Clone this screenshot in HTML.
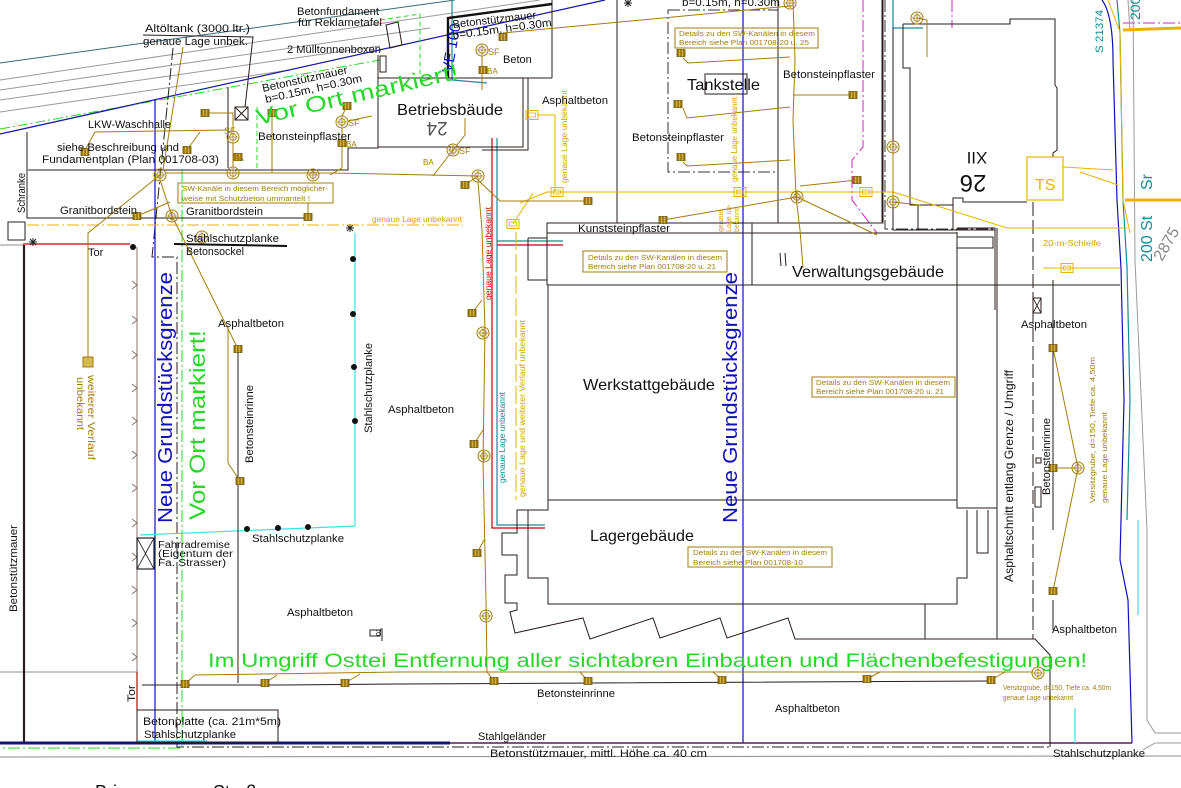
<!DOCTYPE html>
<html><head><meta charset="utf-8"><style>
html,body{margin:0;padding:0;background:#fff;}
svg{display:block;}
text{font-family:"Liberation Sans",sans-serif;}
</style></head><body>
<svg width="1181" height="788" viewBox="0 0 1181 788" xmlns="http://www.w3.org/2000/svg">
<defs>
<g id="mh"><circle r="6" fill="none" stroke="#a27c0e" stroke-width="1"/><circle r="3.3" fill="none" stroke="#a27c0e" stroke-width="0.8"/><path d="M-5 0H5M0 -5V5" stroke="#a27c0e" stroke-width="0.8"/></g>
<g id="sq"><rect x="-4" y="-3.5" width="8" height="7" fill="#a57f10" stroke="#6a5000" stroke-width="0.8"/><path d="M-1.5 -3.5V3.5M1.5 -3.5V3.5" stroke="#e8cc70" stroke-width="0.6"/></g>
<g id="ysq"><rect x="-6" y="-4.5" width="12" height="9" fill="none" stroke="#e6b400" stroke-width="1"/><rect x="-3.5" y="-2" width="7" height="4" fill="none" stroke="#e6b400" stroke-width="0.8"/></g>
<g id="star"><path d="M-4 0H4M0 -4V4M-3 -3L3 3M-3 3L3 -3" stroke="#222" stroke-width="1"/></g>
</defs>
<rect width="1181" height="788" fill="#fff"/>

<!-- top diagonal road lines -->
<g fill="none" stroke-width="1">
<line x1="0" y1="63" x2="455" y2="0" stroke="#3a6a7a"/>
<line x1="0" y1="80" x2="540" y2="0" stroke="#9a9a9a"/>
<line x1="0" y1="90" x2="430" y2="28" stroke="#9a9a9a"/>
<line x1="0" y1="100" x2="380" y2="46" stroke="#9a9a9a"/>
<line x1="0" y1="112" x2="290" y2="70" stroke="#9a9a9a"/>
<line x1="0" y1="129" x2="380" y2="60" stroke="#28d828" stroke-dasharray="10,3,2,3"/>
<line x1="0" y1="134" x2="605" y2="0" stroke="#1a1aa0" stroke-width="1.3"/>
</g>

<!-- grey verticals left -->
<g stroke="#8a7070" fill="none" stroke-width="1">
<line x1="137" y1="247" x2="137" y2="672"/>
<path d="M132 281L137 285L132 289M132 316L137 320L132 324M132 351L137 355L132 359M132 384L137 388L132 392M132 417L137 421L132 425M132 451L137 455L132 459M132 484L137 488L132 492M132 519L137 523L132 527M132 553L137 557L132 561M132 586L137 590L132 594M132 619L137 623L132 627M132 653L137 657L132 661"/>
</g>
<line x1="0" y1="672" x2="137" y2="672" stroke="#8c8c8c"/>
<line x1="0" y1="757" x2="1181" y2="756" stroke="#8c8c8c"/>
<line x1="0" y1="245" x2="23" y2="245" stroke="#8c8c8c"/>

<!-- left wall -->
<line x1="24" y1="245" x2="24" y2="743" stroke="#2a1c1c" stroke-width="2.2"/>

<!-- dash-dot and green boundary lines -->
<g fill="none" stroke-dasharray="12,3,2,3" stroke-width="1">
<path d="M173 48L152 257H177V747H1049" stroke="#222"/>
<path d="M182 170V748H0" stroke="#28d828"/>
<path d="M668 10H778V172H668Z" stroke="#333"/>
<path d="M885 0V229H995" stroke="#333"/>
<path d="M1123 23H1181" stroke="#d020c8"/>
<path d="M863 0V147L852 160V200L877 233" stroke="#d020c8"/>
<path d="M952 0V28" stroke="#d020c8"/>
</g>
<!-- green dashed Vor Ort box -->
<path d="M257 168V105M380 20L420 14V78" fill="none" stroke="#28d828" stroke-dasharray="5,3"/>

<!-- blue property lines -->
<g fill="none" stroke="#1010b8" stroke-width="1.2">
<line x1="155" y1="100" x2="155" y2="743"/>
<line x1="743" y1="0" x2="743" y2="743"/>
<path d="M1102 0Q1113 15 1113 60L1117 200L1121 268L1124 400L1120 560L1128 600L1132 743"/>
</g>
<line x1="0" y1="743" x2="450" y2="743" stroke="#141478" stroke-width="3"/>
<line x1="450" y1="743" x2="1132" y2="743" stroke="#5a1a5a" stroke-width="1.6"/>

<!-- teal/red/cyan -->
<g fill="none" stroke-width="1.2">
<path d="M497 138V525H545" stroke="#168a96"/>
<path d="M492 138V528H545" stroke="#cc0000"/>
<path d="M497 241H563" stroke="#168a96"/>
<path d="M497 245H563" stroke="#cc0000"/>
<path d="M23 244H130" stroke="#cc0000"/>
<path d="M137 672V710" stroke="#cc0000"/>
<path d="M452 0V80L487 83" stroke="#168a96"/>
<path d="M893 0V28H923" stroke="#168a96"/>
<path d="M1117 0L1120 33L1123 200L1127 267L1130 400L1127 520" stroke="#168a96"/>
<path d="M140 535L355 526V233" stroke="#40e0e8"/>
<path d="M137 741H207" stroke="#40e0e8"/>
<path d="M1075 708V743M1138 520V615" stroke="#40e0e8"/>
</g>
<!-- grey right -->
<g fill="none" stroke="#9a9a9a" stroke-width="1">
<path d="M1133 0L1135 260L1147 530L1147 720L1155 733H1181"/>
<path d="M1143 750L1155 743H1181"/>
<path d="M1128 0L1130 30"/>
</g>

<!-- buildings black -->
<g fill="none" stroke="#2a1c1c" stroke-width="1">
<path d="M27 132V218H310"/>
<path d="M28 170H348V148H378V55"/>
<path d="M228 87V168"/>
<path d="M143 35L253 37L245 107"/>
<rect x="235" y="107" width="13" height="13"/>
<path d="M235 107L248 120M248 107L235 120"/>
<rect x="380" y="56" width="6" height="16"/>
<path d="M386 25L398 22L402 45L390 48Z"/>
<path d="M378 78H552M378 78V147H523V78"/>
<path d="M482 150H528V78"/>
<path d="M552 0V78"/>
<path d="M617 0V223"/>
<path d="M778 0V223H547V285"/>
<rect x="705" y="74" width="42" height="20"/>
<path d="M528 238H547M528 238V280H547"/>
<path d="M547 233H957"/>
<path d="M752 223H883V0"/>
<path d="M752 223V285"/>
<path d="M882 0V222"/>
<path d="M893 28V230H995"/>
<path d="M547 285H1120"/>
<path d="M548 285V500H957"/>
<path d="M957 232V508H997"/>
<path d="M957 228H995V310"/>
<rect x="957" y="237" width="36" height="11"/>
<path d="M997 228V639"/>
<path d="M903 24H1010V19H1055V85L1057 88V150L1053 153V157"/>
<path d="M1027 202H963V198H953V205H910V68H903V24"/>
<path d="M918 205V230M953 205V230"/>
<path d="M548 500V510H517V533H502V555H517V575H505V603H517V610L510 612L515 633L583 618L590 639L653 618L660 638L720 618L727 638L788 618L795 639H1035L1050 655V747"/>
<path d="M528 510V578H548V604H957V578H967V510"/>
<path d="M977 510V553H988V510"/>
<path d="M925 604V639"/>
<path d="M1053 280V530M1053 600V630"/>
<rect x="1035" y="487" width="6" height="20"/>
<rect x="1036" y="458" width="5" height="5"/>
<path d="M238 348V683"/>
<path d="M142 685H283L400 684L993 681"/>
<rect x="137" y="710" width="141" height="32"/>
<path d="M780 253L781 266M785 253L786 266"/>
</g>
<path d="M1033 202V639" fill="none" stroke="#2a1c1c" stroke-dasharray="14,4"/>
<rect x="1033" y="298" width="8" height="15" fill="none" stroke="#2a1c1c"/>
<path d="M1033 298L1041 313M1041 298L1033 313" stroke="#2a1c1c" stroke-width="0.8"/>
<path d="M448 78V18L552 4" fill="none" stroke="#111" stroke-width="2.4"/>
<line x1="174" y1="244" x2="287" y2="246" stroke="#111" stroke-width="2"/>
<rect x="8" y="222" width="17" height="18" fill="none" stroke="#222"/>
<rect x="137" y="538" width="17" height="31" fill="none" stroke="#222" stroke-width="1.2"/>
<path d="M137 538L154 569M154 538L137 569" stroke="#222" stroke-width="0.8"/>
<rect x="370" y="630" width="10" height="6" fill="none" stroke="#222"/>
<path d="M382 628V641" stroke="#222"/>

<!-- black dots -->
<g fill="#111">
<circle cx="133" cy="247" r="3"/><circle cx="353" cy="259" r="3"/><circle cx="353" cy="314" r="3"/><circle cx="354" cy="367" r="3"/><circle cx="355" cy="421" r="3"/><circle cx="247" cy="529" r="3"/><circle cx="278" cy="528" r="3"/><circle cx="308" cy="527" r="3"/>
</g>
<use href="#star" x="33" y="242"/><use href="#star" x="350" y="228"/><use href="#star" x="628" y="3"/>

<!-- yellow utility lines -->
<g fill="none" stroke="#e6b400" stroke-width="1">
<path d="M27 225H463" stroke-dasharray="12,3,2,3"/>
<path d="M537 115H555V192"/>
<path d="M520 203L547 192H893L1007 228H1127"/>
<path d="M513 224L533 193"/>
<path d="M516 232V500" stroke-dasharray="18,4"/>
<path d="M1043 268H1120"/>
<path d="M1063 167L1113 170M1080 172L1118 185"/>
<path d="M1108 0L1120 32L1123 200L1130 233"/>
</g>
<path d="M1123 30L1181 28M1125 200H1181" stroke="#f0b000" stroke-width="3"/>
<rect x="1027" y="157" width="36" height="43" fill="none" stroke="#e6b400" stroke-width="1.2"/>

<!-- olive lines -->
<g fill="none" stroke="#a27c0e" stroke-width="1">
<path d="M183 47L163 170"/>
<path d="M160 175L88 233V357"/>
<path d="M160 180L172 216L238 349"/>
<path d="M142 214L170 202"/>
<path d="M165 173H330L478 176"/>
<path d="M233 143V167"/>
<path d="M205 113H233V131"/>
<path d="M85 150L95 132L227 130"/>
<path d="M187 150L200 132"/>
<path d="M272 113V173"/>
<path d="M342 128V168L330 175"/>
<path d="M347 106L342 116"/>
<path d="M348 121L372 116"/>
<path d="M308 217V203"/>
<path d="M453 150L433 176"/>
<path d="M453 150L465 135V118"/>
<path d="M478 176L465 185"/>
<path d="M478 180L500 201H588"/>
<path d="M503 33L790 6"/>
<path d="M482 56V90"/>
<path d="M478 182L482 230L485 330L483 460L486 600L487 672"/>
<path d="M195 675L400 672H1033"/>
<path d="M185 684L195 675M265 683L277 675M345 683L360 674M494 681L487 672M588 681L580 672M722 680L713 672M867 679L880 672M991 680L1005 672"/>
<path d="M228 327V463L240 481"/>
<path d="M472 313L482 300M474 444L483 430M477 553L484 540"/>
<path d="M683 58L688 63L790 57M683 108L687 118L790 107M683 162L687 166L790 160"/>
<path d="M793 0L795 60L793 120L796 197L800 230L803 268"/>
<path d="M853 95H793M857 180L800 186"/>
<path d="M797 197L663 220M797 197L877 235"/>
<path d="M917 18L927 20V57"/>
<path d="M893 147V202L920 205"/>
<path d="M1053 348L1078 468M1053 468H1078M1078 468L1053 591"/>
</g>

<!-- olive symbols -->
<g>
<use href="#mh" x="160" y="175"/><use href="#mh" x="233" y="173"/><use href="#mh" x="313" y="175"/><use href="#mh" x="172" y="216"/><use href="#mh" x="233" y="137"/><use href="#mh" x="342" y="122"/><use href="#mh" x="202" y="237"/><use href="#mh" x="482" y="50"/><use href="#mh" x="453" y="150"/><use href="#mh" x="478" y="176"/><use href="#mh" x="483" y="333"/><use href="#mh" x="484" y="456"/><use href="#mh" x="486" y="616"/><use href="#mh" x="797" y="197"/><use href="#mh" x="790" y="3"/><use href="#mh" x="917" y="18"/><use href="#mh" x="893" y="147"/><use href="#mh" x="893" y="202"/><use href="#mh" x="1078" y="468"/><use href="#mh" x="1038" y="673"/>
<use href="#sq" x="205" y="113"/><use href="#sq" x="272" y="113"/><use href="#sq" x="347" y="106"/><use href="#sq" x="85" y="152"/><use href="#sq" x="187" y="150"/><use href="#sq" x="342" y="143"/><use href="#sq" x="238" y="157"/><use href="#sq" x="137" y="216"/><use href="#sq" x="308" y="217"/><use href="#sq" x="503" y="37"/><use href="#sq" x="483" y="70"/><use href="#sq" x="465" y="185"/><use href="#sq" x="588" y="201"/><use href="#sq" x="663" y="220"/><use href="#sq" x="681" y="53"/><use href="#sq" x="678" y="104"/><use href="#sq" x="681" y="157"/><use href="#sq" x="853" y="95"/><use href="#sq" x="857" y="180"/><use href="#sq" x="472" y="313"/><use href="#sq" x="474" y="444"/><use href="#sq" x="477" y="553"/><use href="#sq" x="494" y="681"/><use href="#sq" x="588" y="681"/><use href="#sq" x="722" y="680"/><use href="#sq" x="185" y="684"/><use href="#sq" x="265" y="683"/><use href="#sq" x="345" y="683"/><use href="#sq" x="867" y="679"/><use href="#sq" x="991" y="680"/><use href="#sq" x="238" y="349"/><use href="#sq" x="240" y="481"/><use href="#sq" x="1053" y="348"/><use href="#sq" x="1053" y="468"/><use href="#sq" x="1053" y="591"/>
<rect x="83" y="357" width="10" height="10" fill="#d8b850" stroke="#a27c0e"/>
<use href="#ysq" x="532" y="115"/><use href="#ysq" x="557" y="192"/><use href="#ysq" x="513" y="224"/><use href="#ysq" x="740" y="192"/><use href="#ysq" x="866" y="192"/><use href="#ysq" x="1067" y="268"/>
</g>

<!-- olive boxes -->
<g fill="none" stroke="#a27c0e" stroke-width="1">
<rect x="178" y="183" width="155" height="20"/>
<rect x="675" y="28" width="143" height="20"/>
<rect x="583" y="251" width="144" height="21"/>
<rect x="812" y="377" width="143" height="20"/>
<rect x="688" y="547" width="144" height="20"/>
</g>
<g fill="#a27c0e" font-size="7.5">
<text x="182" y="191" textLength="146" lengthAdjust="spacingAndGlyphs">SW-Kanäle in diesem Bereich möglicher-</text>
<text x="182" y="201" textLength="128" lengthAdjust="spacingAndGlyphs">weise mit Schutzbeton ummantelt !</text>
<text x="679" y="36" textLength="136" lengthAdjust="spacingAndGlyphs">Details zu den SW-Kanälen in diesem</text>
<text x="679" y="45" textLength="130" lengthAdjust="spacingAndGlyphs">Bereich siehe Plan 001708-20 u. 25</text>
<text x="588" y="260" textLength="134" lengthAdjust="spacingAndGlyphs">Details zu den SW-Kanälen in diesem</text>
<text x="588" y="269" textLength="128" lengthAdjust="spacingAndGlyphs">Bereich siehe Plan 001708-20 u. 21</text>
<text x="816" y="385" textLength="134" lengthAdjust="spacingAndGlyphs">Details zu den SW-Kanälen in diesem</text>
<text x="816" y="394" textLength="128" lengthAdjust="spacingAndGlyphs">Bereich siehe Plan 001708-20 u. 21</text>
<text x="693" y="555" textLength="134" lengthAdjust="spacingAndGlyphs">Details zu den SW-Kanälen in diesem</text>
<text x="693" y="565" textLength="110" lengthAdjust="spacingAndGlyphs">Bereich siehe Plan 001708-10</text>
<text x="1003" y="690" textLength="108" lengthAdjust="spacingAndGlyphs">Versitzgrube, d=150, Tiefe ca. 4,50m</text>
<text x="1003" y="700" textLength="70" lengthAdjust="spacingAndGlyphs">genaue Lage unbekannt</text>
<text transform="translate(1095,503) rotate(-90)" textLength="146" lengthAdjust="spacingAndGlyphs">Versitzgrube, d=150, Tiefe ca. 4,50m</text>
<text transform="translate(1107,503) rotate(-90)" textLength="91" lengthAdjust="spacingAndGlyphs">genaue Lage unbekannt</text>
<text transform="translate(88,375) rotate(90)" font-size="10" textLength="85" lengthAdjust="spacingAndGlyphs">weiterer Verlauf</text>
<text transform="translate(77,377) rotate(90)" font-size="10" textLength="53" lengthAdjust="spacingAndGlyphs">unbekannt</text>
<text x="224" y="134" font-size="9">SF</text>
<text x="348" y="126" font-size="9">SF</text>
<text x="233" y="161" font-size="8">BA</text>
<text x="346" y="147" font-size="8">BA</text>
<text x="488" y="55" font-size="9">SF</text>
<text x="487" y="74" font-size="8">BA</text>
<text x="459" y="154" font-size="9">SF</text>
<text x="423" y="165" font-size="8">BA</text>
</g>
<g fill="#d4a200" font-size="8">
<text x="372" y="222" textLength="90" lengthAdjust="spacingAndGlyphs">genaue Lage unbekannt</text>
<text transform="translate(567,183) rotate(-90)" textLength="93" lengthAdjust="spacingAndGlyphs">genaue Lage unbekannt</text>
<text transform="translate(737,182) rotate(-90)" textLength="85" lengthAdjust="spacingAndGlyphs">genaue Lage unbekannt</text>
<text transform="translate(525,497) rotate(-90)" textLength="177" lengthAdjust="spacingAndGlyphs">genaue Lage und weiterer Verlauf unbekannt</text>
<text transform="translate(723,232) rotate(-90)" font-size="7" textLength="22" lengthAdjust="spacingAndGlyphs">genaue</text>
<text transform="translate(731,232) rotate(-90)" font-size="7" textLength="28" lengthAdjust="spacingAndGlyphs">Lage un-</text>
<text transform="translate(739,232) rotate(-90)" font-size="7" textLength="24" lengthAdjust="spacingAndGlyphs">bekannt</text>
<text x="1043" y="246" textLength="58" lengthAdjust="spacingAndGlyphs">20-m-Schleife</text>
<text x="1035" y="190" font-size="16" fill="#e6b400">TS</text>
</g>
<text transform="translate(491,300) rotate(-90)" fill="#cc0000" font-size="8" textLength="93" lengthAdjust="spacingAndGlyphs">genaue Lage unbekannt</text>
<text transform="translate(505,483) rotate(-90)" fill="#168a96" font-size="8" textLength="91" lengthAdjust="spacingAndGlyphs">genaue Lage unbekannt</text>
<g fill="#168a96">
<text transform="translate(1103,53) rotate(-90)" font-size="11" textLength="43" lengthAdjust="spacingAndGlyphs">S 21374</text>
<text transform="translate(1140,20) rotate(-90)" font-size="14">200</text>
<text transform="translate(1152,190) rotate(-90)" font-size="16">Sr</text>
<text transform="translate(1152,262) rotate(-90)" font-size="16">200 St</text>
</g>
<text transform="translate(1162,262) rotate(-60)" fill="#888" font-size="16">2875</text>

<!-- blue & green big texts -->
<text transform="translate(172,523) rotate(-90)" fill="#1010b8" font-size="20" textLength="251" lengthAdjust="spacingAndGlyphs">Neue Grundstücksgrenze</text>
<text transform="translate(737,523) rotate(-90)" fill="#1010b8" font-size="20" textLength="251" lengthAdjust="spacingAndGlyphs">Neue Grundstücksgrenze</text>
<text transform="translate(452,73) rotate(-80)" fill="#1010b8" font-size="15">VE 100</text>
<text transform="translate(205,520) rotate(-90)" fill="#28d828" font-size="22" textLength="190" lengthAdjust="spacingAndGlyphs">Vor Ort markiert!</text>
<text transform="translate(258,125) rotate(-13)" fill="#28d828" font-size="22" textLength="207" lengthAdjust="spacingAndGlyphs">Vor Ort markiert!</text>
<text x="208" y="667" fill="#28d828" font-size="19" textLength="879" lengthAdjust="spacingAndGlyphs">Im Umgriff Osttei Entfernung aller sichtabren Einbauten und Flächenbefestigungen!</text>

<!-- black labels -->
<g fill="#111" font-size="11">
<text x="145" y="32" textLength="105" lengthAdjust="spacingAndGlyphs">Altöltank (3000 ltr.)</text>
<text x="143" y="45" textLength="105" lengthAdjust="spacingAndGlyphs">genaue Lage unbek.</text>
<text x="297" y="15" textLength="82" lengthAdjust="spacingAndGlyphs">Betonfundament</text>
<text x="298" y="26" textLength="84" lengthAdjust="spacingAndGlyphs">für Reklametafel</text>
<text x="287" y="53" textLength="94" lengthAdjust="spacingAndGlyphs">2 Mülltonnenboxen</text>
<text transform="translate(263,92) rotate(-12.5)" textLength="87" lengthAdjust="spacingAndGlyphs">Betonstützmauer</text>
<text transform="translate(266,103) rotate(-12.5)" textLength="99" lengthAdjust="spacingAndGlyphs">b=0.15m, h=0.30m</text>
<text x="88" y="128" textLength="83" lengthAdjust="spacingAndGlyphs">LKW-Waschhalle</text>
<text x="57" y="151" textLength="122" lengthAdjust="spacingAndGlyphs">siehe Beschreibung und</text>
<text x="42" y="163" textLength="177" lengthAdjust="spacingAndGlyphs">Fundamentplan (Plan 001708-03)</text>
<text x="258" y="140" textLength="93" lengthAdjust="spacingAndGlyphs">Betonsteinpflaster</text>
<text x="60" y="214" textLength="77" lengthAdjust="spacingAndGlyphs">Granitbordstein</text>
<text x="186" y="215" textLength="77" lengthAdjust="spacingAndGlyphs">Granitbordstein</text>
<text transform="translate(25,213) rotate(-90)" textLength="40" lengthAdjust="spacingAndGlyphs">Schranke</text>
<text x="88" y="256">Tor</text>
<text x="186" y="242" textLength="93" lengthAdjust="spacingAndGlyphs">Stahlschutzplanke</text>
<text x="186" y="255" textLength="58" lengthAdjust="spacingAndGlyphs">Betonsockel</text>
<text transform="translate(453,28) rotate(-6.5)" textLength="84" lengthAdjust="spacingAndGlyphs">Betonstützmauer</text>
<text transform="translate(453,39) rotate(-7.5)" textLength="100" lengthAdjust="spacingAndGlyphs">b=0.15m, h=0.30m</text>
<text x="503" y="63">Beton</text>
<text x="397" y="115" font-size="16" textLength="106" lengthAdjust="spacingAndGlyphs">Betriebsbäude</text>
<text transform="translate(437,122) rotate(180)" text-anchor="middle" font-size="19" fill="#555">24</text>
<text x="542" y="104" textLength="66" lengthAdjust="spacingAndGlyphs">Asphaltbeton</text>
<text x="687" y="90" font-size="16" textLength="73" lengthAdjust="spacingAndGlyphs">Tankstelle</text>
<text x="632" y="141" textLength="92" lengthAdjust="spacingAndGlyphs">Betonsteinpflaster</text>
<text x="783" y="78" textLength="92" lengthAdjust="spacingAndGlyphs">Betonsteinpflaster</text>
<text x="682" y="6" textLength="98" lengthAdjust="spacingAndGlyphs">b=0.15m, h=0.30m</text>
<text x="578" y="232" textLength="92" lengthAdjust="spacingAndGlyphs">Kunststeinpflaster</text>
<text x="792" y="277" font-size="16" textLength="152" lengthAdjust="spacingAndGlyphs">Verwaltungsgebäude</text>
<text x="583" y="390" font-size="16" textLength="132" lengthAdjust="spacingAndGlyphs">Werkstattgebäude</text>
<text x="590" y="541" font-size="16" textLength="104" lengthAdjust="spacingAndGlyphs">Lagergebäude</text>
<text transform="translate(977,152) rotate(180)" text-anchor="middle" font-size="17">XII</text>
<text transform="translate(973,175) rotate(180)" text-anchor="middle" font-size="24">26</text>
<text x="218" y="327" textLength="66" lengthAdjust="spacingAndGlyphs">Asphaltbeton</text>
<text x="388" y="413" textLength="66" lengthAdjust="spacingAndGlyphs">Asphaltbeton</text>
<text x="287" y="616" textLength="66" lengthAdjust="spacingAndGlyphs">Asphaltbeton</text>
<text x="1021" y="328" textLength="66" lengthAdjust="spacingAndGlyphs">Asphaltbeton</text>
<text x="1052" y="633" textLength="65" lengthAdjust="spacingAndGlyphs">Asphaltbeton</text>
<text x="775" y="712" textLength="65" lengthAdjust="spacingAndGlyphs">Asphaltbeton</text>
<text transform="translate(253,463) rotate(-90)" textLength="78" lengthAdjust="spacingAndGlyphs">Betonsteinrinne</text>
<text transform="translate(1050,495) rotate(-90)" textLength="77" lengthAdjust="spacingAndGlyphs">Betonsteinrinne</text>
<text x="537" y="697" textLength="78" lengthAdjust="spacingAndGlyphs">Betonsteinrinne</text>
<text transform="translate(372,433) rotate(-90)" textLength="90" lengthAdjust="spacingAndGlyphs">Stahlschutzplanke</text>
<text x="252" y="542" textLength="92" lengthAdjust="spacingAndGlyphs">Stahlschutzplanke</text>
<text x="158" y="548" font-size="10" textLength="72" lengthAdjust="spacingAndGlyphs">Fahrradremise</text>
<text x="158" y="557" font-size="10" textLength="75" lengthAdjust="spacingAndGlyphs">(Eigentum der</text>
<text x="158" y="566" font-size="10" textLength="68" lengthAdjust="spacingAndGlyphs">Fa. Strasser)</text>
<text transform="translate(17,612) rotate(-90)" textLength="87" lengthAdjust="spacingAndGlyphs">Betonstützmauer</text>
<text transform="translate(135,702) rotate(-90)" textLength="17" lengthAdjust="spacingAndGlyphs">Tor</text>
<text x="143" y="725" textLength="138" lengthAdjust="spacingAndGlyphs">Betonplatte (ca. 21m*5m)</text>
<text x="144" y="738" textLength="92" lengthAdjust="spacingAndGlyphs">Stahlschutzplanke</text>
<text x="478" y="740" textLength="68" lengthAdjust="spacingAndGlyphs">Stahlgeländer</text>
<text x="490" y="757" textLength="217" lengthAdjust="spacingAndGlyphs">Betonstützmauer, mittl. Höhe ca. 40 cm</text>
<text x="1053" y="757" textLength="92" lengthAdjust="spacingAndGlyphs">Stahlschutzplanke</text>
<text transform="translate(1013,582) rotate(-90)" font-size="12" textLength="212" lengthAdjust="spacingAndGlyphs">Asphaltschnitt entlang Grenze / Umgriff</text>
<text transform="translate(381,636) rotate(-90)" font-size="7">01</text>
<text x="95" y="798" font-size="18">Brixener</text>
<text x="213" y="798" font-size="18">Straße</text>
</g>
</svg>
</body></html>
